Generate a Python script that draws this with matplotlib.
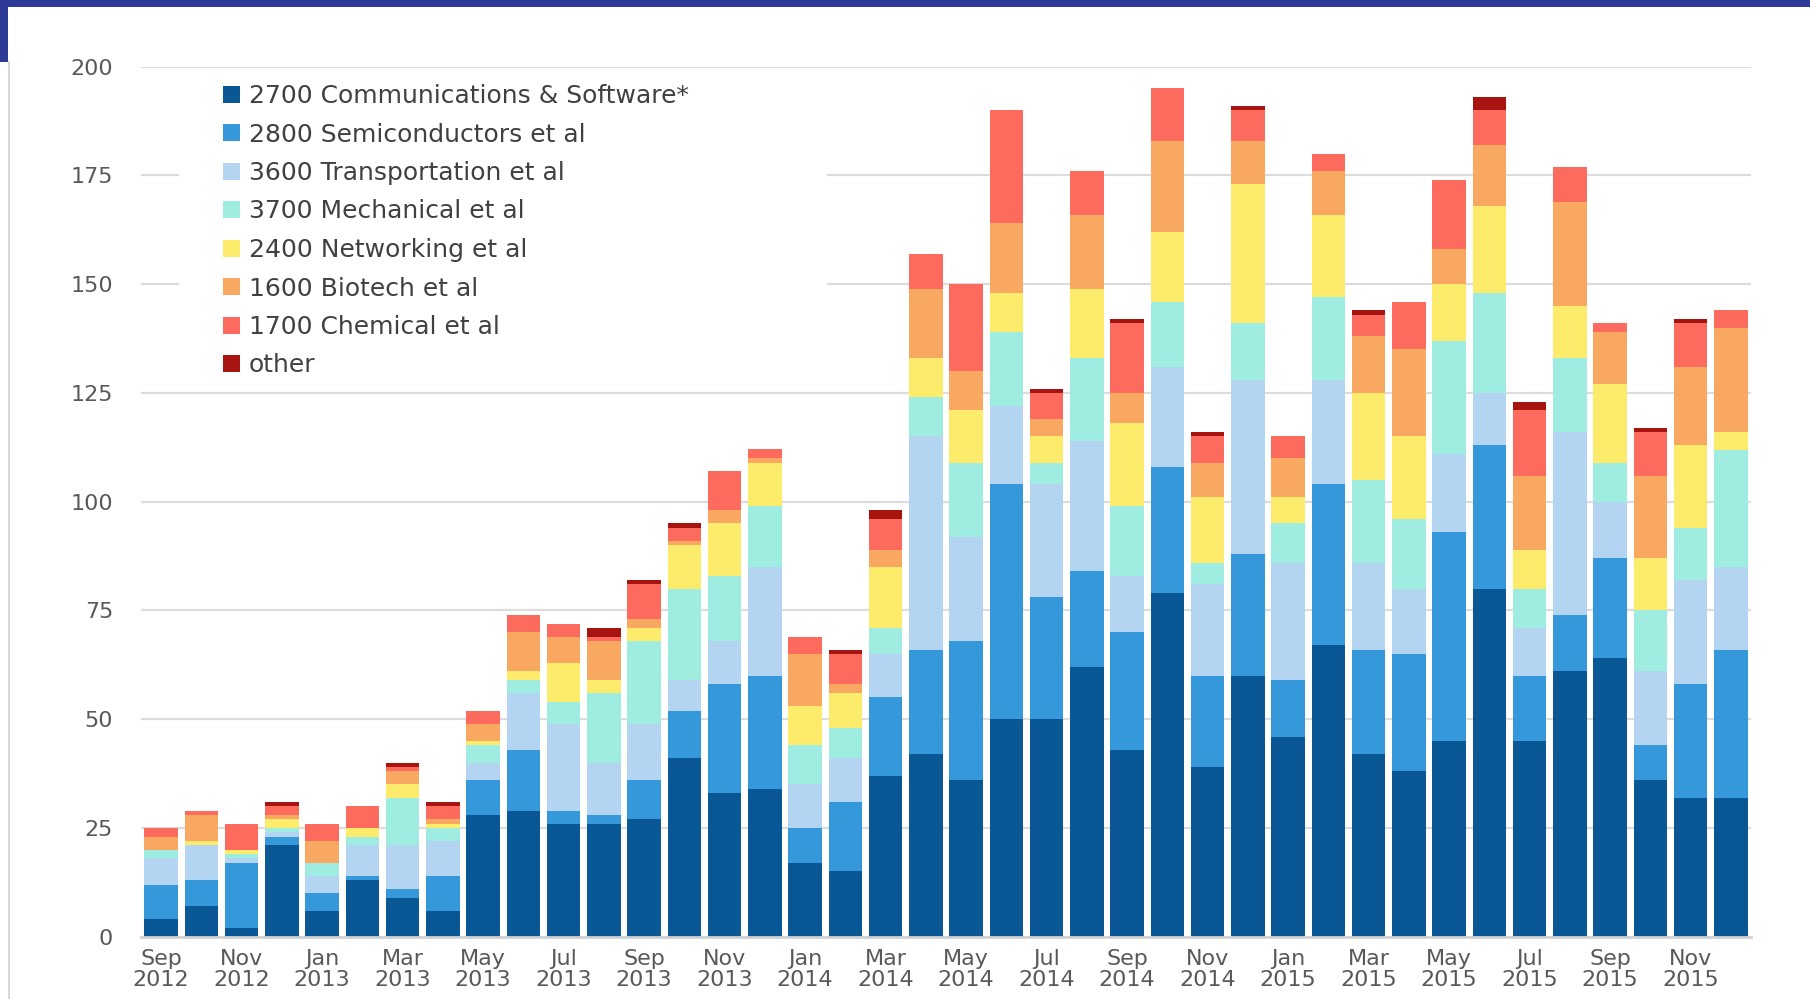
import matplotlib
matplotlib.use("Agg")
import matplotlib.pyplot as plt
from matplotlib.patches import Rectangle
from matplotlib.lines import Line2D
import numpy as np

months = ["Sep 2012", "Oct 2012", "Nov 2012", "Dec 2012",
          "Jan 2013", "Feb 2013", "Mar 2013", "Apr 2013", "May 2013", "Jun 2013",
          "Jul 2013", "Aug 2013", "Sep 2013", "Oct 2013", "Nov 2013", "Dec 2013",
          "Jan 2014", "Feb 2014", "Mar 2014", "Apr 2014", "May 2014", "Jun 2014",
          "Jul 2014", "Aug 2014", "Sep 2014", "Oct 2014", "Nov 2014", "Dec 2014",
          "Jan 2015", "Feb 2015", "Mar 2015", "Apr 2015", "May 2015", "Jun 2015",
          "Jul 2015", "Aug 2015", "Sep 2015", "Oct 2015", "Nov 2015", "Dec 2015"]

comm = [4, 7, 2, 21, 6, 13, 9, 6, 28, 29, 26, 26, 27, 41, 33, 34, 17, 15, 37, 42,
        36, 50, 50, 62, 43, 79, 39, 60, 46, 67, 42, 38, 45, 80, 45, 61, 64, 36, 32, 32]
semi = [8, 6, 15, 2, 4, 1, 2, 8, 8, 14, 3, 2, 9, 11, 25, 26, 8, 16, 18, 24,
        32, 54, 28, 22, 27, 29, 21, 28, 13, 37, 24, 27, 48, 33, 15, 13, 23, 8, 26, 34]
trans = [6, 8, 1, 1, 4, 7, 10, 8, 4, 13, 20, 12, 13, 7, 10, 25, 10, 10, 10, 49,
         24, 18, 26, 30, 13, 23, 21, 40, 27, 24, 20, 15, 18, 12, 11, 42, 13, 17, 24, 19]
mech = [2, 0, 1, 1, 3, 2, 11, 3, 4, 3, 5, 16, 19, 21, 15, 14, 9, 7, 6, 9,
        17, 17, 5, 19, 16, 15, 5, 13, 9, 19, 19, 16, 26, 23, 9, 17, 9, 14, 12, 27]
netw = [0, 1, 1, 2, 0, 2, 3, 1, 1, 2, 9, 3, 3, 10, 12, 10, 9, 8, 14, 9,
        12, 9, 6, 16, 19, 16, 15, 32, 6, 19, 20, 19, 13, 20, 9, 12, 18, 12, 19, 4]
bio = [3, 6, 0, 1, 5, 0, 3, 1, 4, 9, 6, 9, 2, 1, 3, 1, 12, 2, 4, 16,
       9, 16, 4, 17, 7, 21, 8, 10, 9, 10, 13, 20, 8, 14, 17, 24, 12, 19, 18, 24]
chem = [2, 1, 6, 2, 4, 5, 1, 3, 3, 4, 3, 1, 8, 3, 9, 2, 4, 7, 7, 8,
        20, 26, 6, 10, 16, 12, 6, 7, 5, 4, 5, 11, 16, 8, 15, 8, 2, 10, 10, 4]
other = [0, 0, 0, 1, 0, 0, 1, 1, 0, 0, 0, 2, 1, 1, 0, 0, 0, 1, 2, 0,
         0, 0, 1, 0, 1, 0, 1, 1, 0, 0, 1, 0, 0, 3, 2, 0, 0, 1, 1, 0]

series_names = ["2700 Communications & Software*", "2800 Semiconductors et al",
                "3600 Transportation et al", "3700 Mechanical et al",
                "2400 Networking et al", "1600 Biotech et al",
                "1700 Chemical et al", "other"]
series_values = [comm, semi, trans, mech, netw, bio, chem, other]
series_colors = ["#0A5796", "#3498DB", "#B3D5F1", "#9EEDE0",
                 "#FDEB6B", "#F8A860", "#FD6B5E", "#A8140F"]

yticks = [0, 25, 50, 75, 100, 125, 150, 175, 200]

W, H = 1810, 999
fig = plt.figure(figsize=(W / 100, H / 100), dpi=100)
fig.patch.set_facecolor("white")

ax = fig.add_axes([141 / W, 1 - 936.7 / H, 1610 / W, 870 / H])

x = np.arange(len(months))
bottom = np.zeros(len(months))
for name, vals, col in zip(series_names, series_values, series_colors):
    v = np.array(vals, dtype=float)
    ax.bar(x, v, width=0.83, bottom=bottom, color=col, label=name,
           zorder=2, linewidth=0)
    bottom += v

ax.set_xlim(-0.5, len(months) - 0.5)
ax.set_ylim(0, 200)
ax.set_yticks(yticks)
ax.set_yticklabels([str(t) for t in yticks])
ax.set_xticks(x[::2])
ax.set_xticklabels([m.replace(" ", "\n") for m in months[::2]], linespacing=1.05)

ax.grid(axis="y", color="#dcdcdc", linewidth=1.6, zorder=0)
ax.set_axisbelow(True)
for s in ["top", "right", "left"]:
    ax.spines[s].set_visible(False)
ax.spines["bottom"].set_color("#d2d2d2")
ax.spines["bottom"].set_linewidth(2)
ax.spines["bottom"].set_zorder(3)

ax.tick_params(axis="y", length=0, pad=20, labelsize=16, labelcolor="#595959")
ax.tick_params(axis="x", length=0, pad=9, labelsize=16, labelcolor="#595959")

# white box behind legend (covers gridlines)
ax.add_patch(Rectangle((0.0236, 0.638), 0.4025, 0.27, transform=ax.transAxes,
                       facecolor="white", edgecolor="none", zorder=1))

ax.legend(loc="upper left", bbox_to_anchor=(223 / W, 1 - 84 / H),
          bbox_transform=fig.transFigure, frameon=False, fontsize=18,
          handlelength=0.68, handleheight=0.68, handletextpad=0.36,
          labelspacing=0.58, borderaxespad=0, borderpad=0,
          labelcolor="#404040")

# slide decoration
fig.add_artist(Rectangle((0, 1 - 7 / H), 1, 7 / H, transform=fig.transFigure,
                         facecolor="#2C3A96", edgecolor="none"))
fig.add_artist(Rectangle((0, 1 - 62 / H), 8 / W, 62 / H, transform=fig.transFigure,
                         facecolor="#2C3A96", edgecolor="none"))
fig.add_artist(Line2D([8.5 / W, 8.5 / W], [0, 1 - 62 / H], transform=fig.transFigure,
                      color="#cfcfcf", linewidth=1.2))

fig.savefig("out.png", dpi=100)
